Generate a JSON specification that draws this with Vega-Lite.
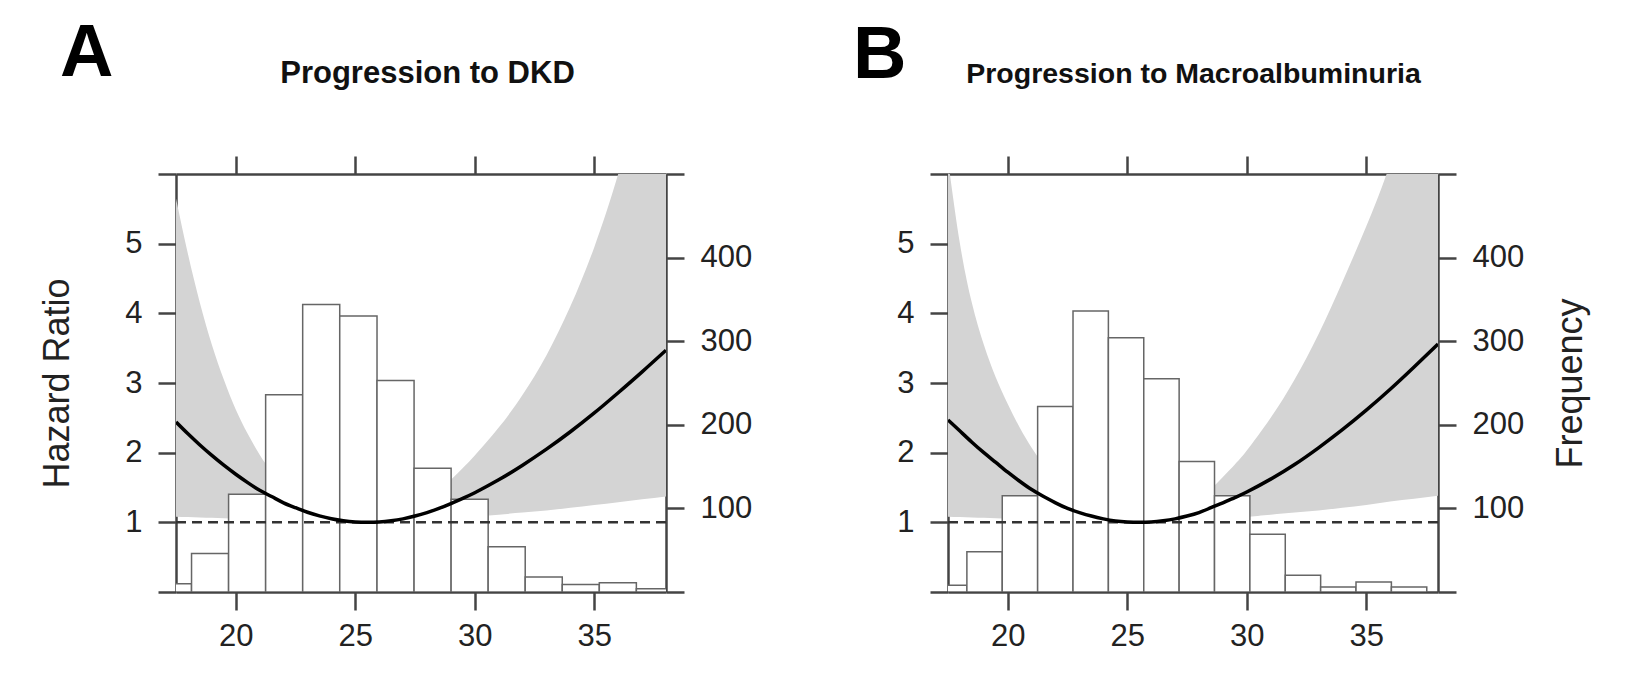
{
  "$schema": "https://vega.github.io/schema/vega-lite/v6.json",
  "background": "white",
  "padding": {"left": 39, "top": 17, "right": 10, "bottom": 10},
  "spacing": 101,
  "config": {
    "font": "Liberation Sans",
    "view": {"stroke": null},
    "axis": {
      "domainColor": "#444444",
      "domainWidth": 2.5,
      "tickColor": "#444444",
      "tickWidth": 2.5,
      "tickSize": 18,
      "grid": false,
      "labelFont": "Liberation Sans",
      "labelFontSize": 31,
      "labelColor": "#222222",
      "labelPadding": 16,
      "labelFlush": false,
      "labelOverlap": false,
      "titleFont": "Liberation Sans",
      "titleFontSize": 36,
      "titleFontWeight": "normal",
      "titleColor": "#222222"
    },
    "title": {"font": "Liberation Sans", "color": "black"}
  },
  "datasets": {
    "curveA": [
      {"bmi": 17.5, "hr": 2.44, "lo": 1.08, "hi": 5.65},
      {"bmi": 18, "hr": 2.27, "lo": 1.075, "hi": 4.85},
      {"bmi": 18.5, "hr": 2.11, "lo": 1.07, "hi": 4.15},
      {"bmi": 19, "hr": 1.96, "lo": 1.065, "hi": 3.55},
      {"bmi": 19.5, "hr": 1.82, "lo": 1.06, "hi": 3.05},
      {"bmi": 20, "hr": 1.69, "lo": 1.055, "hi": 2.62},
      {"bmi": 20.5, "hr": 1.57, "lo": 1.05, "hi": 2.27},
      {"bmi": 21, "hr": 1.46, "lo": 1.045, "hi": 1.97},
      {"bmi": 21.5, "hr": 1.37, "lo": 1.04, "hi": 1.72},
      {"bmi": 22, "hr": 1.28, "lo": 1.03, "hi": 1.51},
      {"bmi": 22.5, "hr": 1.21, "lo": 1.025, "hi": 1.34},
      {"bmi": 23, "hr": 1.145, "lo": 1.015, "hi": 1.21},
      {"bmi": 23.5, "hr": 1.093, "lo": 1.01, "hi": 1.12},
      {"bmi": 24, "hr": 1.052, "lo": 1.005, "hi": 1.065},
      {"bmi": 24.5, "hr": 1.023, "lo": 1.0, "hi": 1.03},
      {"bmi": 25, "hr": 1.006, "lo": 1.0, "hi": 1.01},
      {"bmi": 25.5, "hr": 1.0, "lo": 1.0, "hi": 1.0},
      {"bmi": 26, "hr": 1.005, "lo": 1.0, "hi": 1.01},
      {"bmi": 26.5, "hr": 1.022, "lo": 1.0, "hi": 1.04},
      {"bmi": 27, "hr": 1.05, "lo": 1.01, "hi": 1.09},
      {"bmi": 27.5, "hr": 1.09, "lo": 1.02, "hi": 1.18},
      {"bmi": 28, "hr": 1.14, "lo": 1.03, "hi": 1.3},
      {"bmi": 28.5, "hr": 1.2, "lo": 1.04, "hi": 1.45},
      {"bmi": 29, "hr": 1.27, "lo": 1.05, "hi": 1.61},
      {"bmi": 29.5, "hr": 1.345, "lo": 1.065, "hi": 1.78},
      {"bmi": 30, "hr": 1.425, "lo": 1.08, "hi": 1.96},
      {"bmi": 31, "hr": 1.61, "lo": 1.11, "hi": 2.36},
      {"bmi": 32, "hr": 1.82, "lo": 1.14, "hi": 2.83},
      {"bmi": 33, "hr": 2.05, "lo": 1.17, "hi": 3.4},
      {"bmi": 34, "hr": 2.3, "lo": 1.21, "hi": 4.1},
      {"bmi": 35, "hr": 2.57, "lo": 1.25, "hi": 4.95},
      {"bmi": 36, "hr": 2.86, "lo": 1.29, "hi": 6.0},
      {"bmi": 37, "hr": 3.16, "lo": 1.33, "hi": 7.3},
      {"bmi": 38, "hr": 3.47, "lo": 1.37, "hi": 8.8}
    ],
    "curveB": [
      {"bmi": 17.5, "hr": 2.47, "lo": 1.08, "hi": 6.2},
      {"bmi": 18, "hr": 2.31, "lo": 1.075, "hi": 5.0},
      {"bmi": 18.5, "hr": 2.15, "lo": 1.07, "hi": 4.15},
      {"bmi": 19, "hr": 2.0, "lo": 1.065, "hi": 3.55},
      {"bmi": 19.5, "hr": 1.86, "lo": 1.06, "hi": 3.08},
      {"bmi": 20, "hr": 1.72, "lo": 1.055, "hi": 2.7},
      {"bmi": 20.5, "hr": 1.59, "lo": 1.05, "hi": 2.36},
      {"bmi": 21, "hr": 1.47, "lo": 1.045, "hi": 2.07},
      {"bmi": 21.5, "hr": 1.37, "lo": 1.04, "hi": 1.82},
      {"bmi": 22, "hr": 1.28, "lo": 1.03, "hi": 1.6},
      {"bmi": 22.5, "hr": 1.2, "lo": 1.025, "hi": 1.42},
      {"bmi": 23, "hr": 1.14, "lo": 1.015, "hi": 1.28},
      {"bmi": 23.5, "hr": 1.09, "lo": 1.01, "hi": 1.17},
      {"bmi": 24, "hr": 1.05, "lo": 1.005, "hi": 1.09},
      {"bmi": 24.5, "hr": 1.02, "lo": 1.0, "hi": 1.04},
      {"bmi": 25, "hr": 1.005, "lo": 1.0, "hi": 1.01},
      {"bmi": 25.5, "hr": 1.0, "lo": 1.0, "hi": 1.0},
      {"bmi": 26, "hr": 1.005, "lo": 1.0, "hi": 1.01},
      {"bmi": 26.5, "hr": 1.022, "lo": 1.0, "hi": 1.04},
      {"bmi": 27, "hr": 1.05, "lo": 1.005, "hi": 1.11},
      {"bmi": 27.5, "hr": 1.09, "lo": 1.015, "hi": 1.21},
      {"bmi": 28, "hr": 1.14, "lo": 1.025, "hi": 1.34},
      {"bmi": 28.5, "hr": 1.21, "lo": 1.035, "hi": 1.48},
      {"bmi": 29, "hr": 1.28, "lo": 1.05, "hi": 1.65},
      {"bmi": 29.5, "hr": 1.355, "lo": 1.065, "hi": 1.83},
      {"bmi": 30, "hr": 1.435, "lo": 1.08, "hi": 2.03},
      {"bmi": 31, "hr": 1.62, "lo": 1.11, "hi": 2.5},
      {"bmi": 32, "hr": 1.83, "lo": 1.14, "hi": 3.05},
      {"bmi": 33, "hr": 2.07, "lo": 1.17, "hi": 3.7},
      {"bmi": 34, "hr": 2.33, "lo": 1.21, "hi": 4.45},
      {"bmi": 35, "hr": 2.61, "lo": 1.25, "hi": 5.25},
      {"bmi": 36, "hr": 2.91, "lo": 1.3, "hi": 6.15},
      {"bmi": 37, "hr": 3.23, "lo": 1.34, "hi": 7.3},
      {"bmi": 38, "hr": 3.56, "lo": 1.38, "hi": 8.6}
    ],
    "histA": [
      {"bin_start": 16.6, "bin_end": 18.15, "count": 10},
      {"bin_start": 18.15, "bin_end": 19.7, "count": 46},
      {"bin_start": 19.7, "bin_end": 21.25, "count": 117},
      {"bin_start": 21.25, "bin_end": 22.8, "count": 236},
      {"bin_start": 22.8, "bin_end": 24.35, "count": 344},
      {"bin_start": 24.35, "bin_end": 25.91, "count": 330},
      {"bin_start": 25.91, "bin_end": 27.46, "count": 253},
      {"bin_start": 27.46, "bin_end": 29.01, "count": 148},
      {"bin_start": 29.01, "bin_end": 30.56, "count": 111},
      {"bin_start": 30.56, "bin_end": 32.11, "count": 54},
      {"bin_start": 32.11, "bin_end": 33.66, "count": 18},
      {"bin_start": 33.66, "bin_end": 35.21, "count": 9},
      {"bin_start": 35.21, "bin_end": 36.76, "count": 11},
      {"bin_start": 36.76, "bin_end": 38.31, "count": 4}
    ],
    "histB": [
      {"bin_start": 16.81, "bin_end": 18.29, "count": 8},
      {"bin_start": 18.29, "bin_end": 19.77, "count": 48},
      {"bin_start": 19.77, "bin_end": 21.25, "count": 115},
      {"bin_start": 21.25, "bin_end": 22.73, "count": 222},
      {"bin_start": 22.73, "bin_end": 24.21, "count": 336},
      {"bin_start": 24.21, "bin_end": 25.69, "count": 304},
      {"bin_start": 25.69, "bin_end": 27.17, "count": 255},
      {"bin_start": 27.17, "bin_end": 28.65, "count": 156},
      {"bin_start": 28.65, "bin_end": 30.13, "count": 115},
      {"bin_start": 30.13, "bin_end": 31.61, "count": 69},
      {"bin_start": 31.61, "bin_end": 33.09, "count": 20},
      {"bin_start": 33.09, "bin_end": 34.57, "count": 6},
      {"bin_start": 34.57, "bin_end": 36.05, "count": 12},
      {"bin_start": 36.05, "bin_end": 37.53, "count": 6}
    ]
  },
  "hconcat": [
    {
      "width": 490,
      "height": 418,
      "title": {"text": "A", "anchor": "start", "frame": "group", "fontSize": 74, "fontWeight": "bold", "dx": -116, "dy": 38.5},
      "resolve": {"scale": {"y": "independent"}, "axis": {"x": "independent", "y": "independent"}},
      "layer": [
        {
          "data": {"name": "curveA"},
          "mark": {"type": "area", "color": "#d4d4d4", "clip": true, "interpolate": "natural"},
          "encoding": {
            "x": {"field": "bmi", "type": "quantitative", "scale": {"domain": [17.5, 38], "nice": false, "zero": false},
                  "axis": {"orient": "bottom", "values": [20, 25, 30, 35], "labelPadding": 11, "title": null}},
            "y": {"field": "lo", "type": "quantitative", "scale": {"domain": [0, 6], "nice": false, "zero": false},
                  "axis": {"orient": "left", "values": [0, 1, 2, 3, 4, 5, 6], "labelExpr": "datum.value >= 1 && datum.value <= 5 ? datum.label : ''", "title": "Hazard Ratio", "titlePadding": 48}},
            "y2": {"field": "hi"}
          }
        },
        {
          "data": {"name": "histA"},
          "mark": {"type": "rect", "fill": "white", "stroke": "#666666", "strokeWidth": 1.5, "clip": true},
          "encoding": {
            "x": {"field": "bin_start", "type": "quantitative", "scale": {"domain": [17.5, 38], "nice": false, "zero": false},
                  "axis": {"orient": "top", "values": [20, 25, 30, 35], "labels": false, "title": "Progression to DKD", "titleFontWeight": "bold", "titleFontSize": 31, "titleColor": "#111111", "titlePadding": 65, "titleX": 251}},
            "x2": {"field": "bin_end"},
            "y": {"field": "count", "type": "quantitative", "scale": {"domain": [0, 500], "nice": false, "zero": true},
                  "axis": {"orient": "right", "values": [0, 100, 200, 300, 400, 500], "labelExpr": "datum.value >= 100 && datum.value <= 400 ? datum.label : ''", "title": null}},
            "y2": {"datum": 0}
          }
        },
        {
          "data": {"values": [{}]},
          "mark": {"type": "rule", "strokeDash": [10, 6], "strokeWidth": 2.5, "color": "#333333"},
          "encoding": {
            "y": {"datum": 1, "type": "quantitative", "scale": {"domain": [0, 6], "nice": false, "zero": false}, "axis": null}
          }
        },
        {
          "data": {"name": "curveA"},
          "mark": {"type": "line", "color": "black", "strokeWidth": 3.5, "interpolate": "natural", "clip": true},
          "encoding": {
            "x": {"field": "bmi", "type": "quantitative", "scale": {"domain": [17.5, 38], "nice": false, "zero": false}, "axis": null},
            "y": {"field": "hr", "type": "quantitative", "scale": {"domain": [0, 6], "nice": false, "zero": false}, "axis": null}
          }
        }
      ]
    },
    {
      "width": 490,
      "height": 418,
      "title": {"text": "B", "anchor": "start", "frame": "group", "fontSize": 74, "fontWeight": "bold", "dx": -95, "dy": 38.5},
      "resolve": {"scale": {"y": "independent"}, "axis": {"x": "independent", "y": "independent"}},
      "layer": [
        {
          "data": {"name": "curveB"},
          "mark": {"type": "area", "color": "#d4d4d4", "clip": true, "interpolate": "natural"},
          "encoding": {
            "x": {"field": "bmi", "type": "quantitative", "scale": {"domain": [17.5, 38], "nice": false, "zero": false},
                  "axis": {"orient": "bottom", "values": [20, 25, 30, 35], "labelPadding": 11, "title": null}},
            "y": {"field": "lo", "type": "quantitative", "scale": {"domain": [0, 6], "nice": false, "zero": false},
                  "axis": {"orient": "left", "values": [0, 1, 2, 3, 4, 5, 6], "labelExpr": "datum.value >= 1 && datum.value <= 5 ? datum.label : ''", "title": null}},
            "y2": {"field": "hi"}
          }
        },
        {
          "data": {"name": "histB"},
          "mark": {"type": "rect", "fill": "white", "stroke": "#666666", "strokeWidth": 1.5, "clip": true},
          "encoding": {
            "x": {"field": "bin_start", "type": "quantitative", "scale": {"domain": [17.5, 38], "nice": false, "zero": false},
                  "axis": {"orient": "top", "values": [20, 25, 30, 35], "labels": false, "title": "Progression to Macroalbuminuria", "titleFontWeight": "bold", "titleFontSize": 28.5, "titleColor": "#111111", "titlePadding": 66}},
            "x2": {"field": "bin_end"},
            "y": {"field": "count", "type": "quantitative", "scale": {"domain": [0, 500], "nice": false, "zero": true},
                  "axis": {"orient": "right", "values": [0, 100, 200, 300, 400, 500], "labelExpr": "datum.value >= 100 && datum.value <= 400 ? datum.label : ''", "title": "Frequency", "titleAngle": 270, "titleBaseline": "top", "titlePadding": 30}},
            "y2": {"datum": 0}
          }
        },
        {
          "data": {"values": [{}]},
          "mark": {"type": "rule", "strokeDash": [10, 6], "strokeWidth": 2.5, "color": "#333333"},
          "encoding": {
            "y": {"datum": 1, "type": "quantitative", "scale": {"domain": [0, 6], "nice": false, "zero": false}, "axis": null}
          }
        },
        {
          "data": {"name": "curveB"},
          "mark": {"type": "line", "color": "black", "strokeWidth": 3.5, "interpolate": "natural", "clip": true},
          "encoding": {
            "x": {"field": "bmi", "type": "quantitative", "scale": {"domain": [17.5, 38], "nice": false, "zero": false}, "axis": null},
            "y": {"field": "hr", "type": "quantitative", "scale": {"domain": [0, 6], "nice": false, "zero": false}, "axis": null}
          }
        }
      ]
    }
  ]
}
